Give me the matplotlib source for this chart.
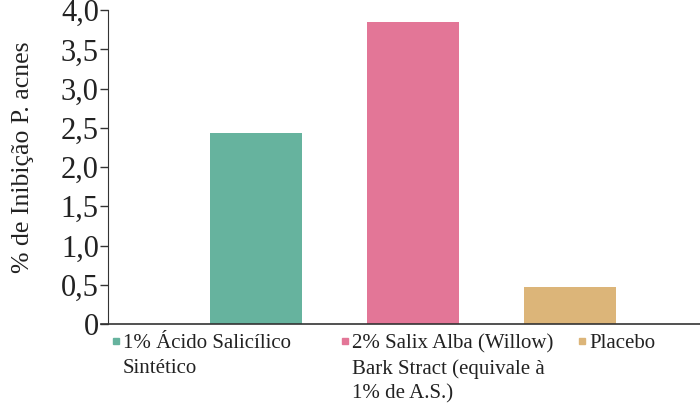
import matplotlib.pyplot as plt
from matplotlib.patches import Rectangle

# dados
categorias = ["1% Ácido Salicílico\nSintético",
              "2% Salix Alba (Willow)\nBark Stract (equivale à\n1% de A.S.)",
              "Placebo"]
valores = [2.43, 3.85, 0.47]
cores = ["#66b39e", "#e37697", "#dcb579"]
yticks = [0, 0.5, 1.0, 1.5, 2.0, 2.5, 3.0, 3.5, 4.0]
ytick_labels = ["0", "0,5", "1,0", "1,5", "2,0", "2,5", "3,0", "3,5", "4,0"]

plt.rcParams['font.family'] = ['Liberation Serif', 'DejaVu Serif']

fig = plt.figure(figsize=(7, 4.05), dpi=100)
ax = fig.add_axes([0.154, 0.2, 0.846, 0.775])

x = range(len(valores))
ax.bar(x, valores, width=0.586, color=cores)

ax.set_xlim(-0.943, 2.83)
ax.set_ylim(0, 4.0)
ax.set_yticks(yticks)
ax.set_yticklabels(ytick_labels, fontsize=22, color="#222222")
ax.set_xticks([])
ax.tick_params(axis='y', direction='out', length=6, width=1, color="#333333", pad=0.5)

for s in ['top', 'right', 'bottom']:
    ax.spines[s].set_visible(False)
ax.spines['left'].set_color("#333333")
ax.plot([-0.012, 1], [0, 0], transform=ax.transAxes, color="#333333",
        lw=1.2, clip_on=False)

ax.set_ylabel("% de Inibição P. acnes", fontsize=18.5, color="#222222")
ax.yaxis.set_label_coords(-0.124, 0.532)

# legenda manual
leg_x = [113, 342, 579]
for xi, lab, c in zip(leg_x, categorias, cores):
    fig.patches.append(Rectangle((xi / 700, 1 - 344 / 405), 6 / 700, 6 / 405,
                                 transform=fig.transFigure, color=c))
    fig.text((xi + 10) / 700, 1 - 334 / 405, lab, fontsize=15, va='top',
             ha='left', color="#222222", linespacing=1.4)

fig.savefig("out.png", dpi=100)
